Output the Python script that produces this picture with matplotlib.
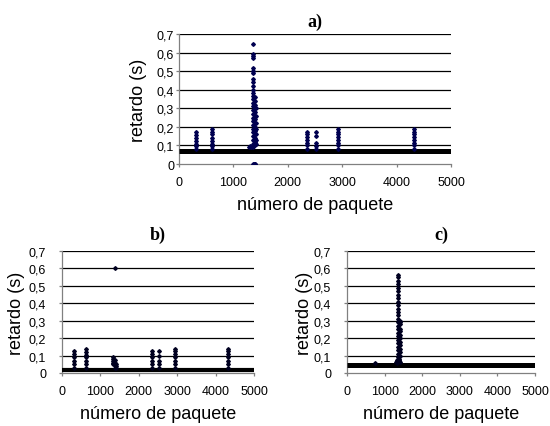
import matplotlib
matplotlib.use("Agg")
import matplotlib.pyplot as plt
import numpy as np

# ---------------- data ----------------
y_ticks = [0, 0.1, 0.2, 0.3, 0.4, 0.5, 0.6, 0.7]
y_tick_labels = ["0", "0,1", "0,2", "0,3", "0,4", "0,5", "0,6", "0,7"]
x_ticks = [0, 1000, 2000, 3000, 4000, 5000]
x_tick_labels = ["0", "1000", "2000", "3000", "4000", "5000"]

panel_titles = ["a)", "b)", "c)"]
ylabel = "retardo (s)"
xlabel = "número de paquete"

# baseline levels (packet range and delay)
a_base_x = [0, 5000]
a_base_y = [0.068, 0.068]
b_base_x = [0, 5000]
b_base_y = [0.015, 0.015]
c_base_x = [0, 5000]
c_base_y = [0.047, 0.047]

# panel a) isolated points
a_x = ([310] * 7 + [615] * 8 + [2350] * 7 + [2520] * 5 + [2930] * 8 + [4320] * 8
       + [1355] * 27 + [1390] * 14 + [1420] * 7 + [1290, 1310, 1330]
       + [1360, 1375, 1390, 1405])
a_y = ([0.08, 0.095, 0.11, 0.125, 0.14, 0.155, 0.175]
       + [0.08, 0.095, 0.11, 0.125, 0.14, 0.16, 0.175, 0.19]
       + [0.08, 0.10, 0.115, 0.13, 0.145, 0.16, 0.175]
       + [0.08, 0.095, 0.115, 0.15, 0.17]
       + [0.08, 0.10, 0.115, 0.13, 0.145, 0.16, 0.175, 0.19]
       + [0.08, 0.10, 0.115, 0.13, 0.145, 0.16, 0.175, 0.19]
       + [0.645, 0.59, 0.58, 0.57, 0.515, 0.50, 0.49, 0.46, 0.44, 0.42, 0.40, 0.38,
          0.365, 0.35, 0.33, 0.31, 0.29, 0.27, 0.25, 0.23, 0.21, 0.19, 0.17, 0.15,
          0.13, 0.11, 0.09]
       + [0.36, 0.34, 0.32, 0.30, 0.28, 0.26, 0.24, 0.22, 0.20, 0.18, 0.16, 0.14, 0.12, 0.10]
       + [0.30, 0.26, 0.22, 0.19, 0.16, 0.13, 0.11]
       + [0.09, 0.095, 0.09]
       + [0.0, 0.0, 0.0, 0.0])

# panel b) isolated points
b_x = ([310] * 6 + [615] * 7 + [1340] * 5 + [1370] * 4 + [1400] * 3 + [2350] * 6
       + [2520] * 5 + [2930] * 7 + [4320] * 7 + [1370])
b_y = ([0.03, 0.05, 0.07, 0.09, 0.11, 0.125]
       + [0.03, 0.05, 0.07, 0.09, 0.105, 0.12, 0.135]
       + [0.09, 0.08, 0.07, 0.06, 0.05]
       + [0.075, 0.06, 0.045, 0.03]
       + [0.05, 0.04, 0.03]
       + [0.03, 0.05, 0.07, 0.09, 0.11, 0.125]
       + [0.03, 0.05, 0.07, 0.10, 0.125]
       + [0.03, 0.05, 0.07, 0.09, 0.11, 0.125, 0.14]
       + [0.03, 0.05, 0.07, 0.09, 0.11, 0.125, 0.135]
       + [0.60])

# panel c) isolated points
c_x = ([1360] * 25 + [1400] * 12 + [1300, 1330, 1360, 1390, 1420, 1320, 1380] + [750])
c_y = ([0.56, 0.55, 0.53, 0.51, 0.49, 0.47, 0.45, 0.43, 0.41, 0.39, 0.37, 0.35,
        0.33, 0.31, 0.29, 0.27, 0.25, 0.23, 0.21, 0.19, 0.17, 0.15, 0.13, 0.11, 0.09]
       + [0.30, 0.29, 0.28, 0.25, 0.24, 0.22, 0.20, 0.18, 0.16, 0.14, 0.12, 0.10]
       + [0.065, 0.075, 0.07, 0.075, 0.065, 0.06, 0.08]
       + [0.06])

# ---------------- plotting ----------------
W, H = 550, 427
fig = plt.figure(figsize=(W / 100, H / 100), dpi=100)

def px_axes(x0, x1, ytop, ybot):
    return fig.add_axes([x0 / W, 1 - ybot / H, (x1 - x0) / W, (ybot - ytop) / H])

ax_a = px_axes(179, 451, 35, 165)
ax_b = px_axes(62, 254, 252, 374)
ax_c = px_axes(347, 535, 252, 374)

# (axes, base x, base y, pts x, pts y, colour, band width, ytick pad,
#  ylabel x, xlabel y, title pad)
panels = [
    (ax_a, a_base_x, a_base_y, a_x, a_y, "#000050", 3.6, 1, -0.118, -0.25, 6),
    (ax_b, b_base_x, b_base_y, b_x, b_y, "#000020", 3.0, 9, -0.195, -0.26, 9),
    (ax_c, c_base_x, c_base_y, c_x, c_y, "#000020", 3.6, 9, -0.18, -0.26, 9),
]

sans = ["Liberation Sans", "DejaVu Sans"]
serif = ["Liberation Serif", "DejaVu Serif"]

for (ax, bx, by, px, py, col, lw, ypad, ylx, xly, tpad), title in zip(panels, panel_titles):
    ax.set_xlim(0, 5000)
    ax.set_ylim(0, 0.7)
    for yv in y_ticks[1:]:
        ax.axhline(yv, color="black", lw=0.9, zorder=1)
    ax.plot(bx, by, color="black", lw=lw, solid_capstyle="butt", zorder=3)
    ax.plot(px, py, linestyle="none", marker="D", markersize=1.9,
            markerfacecolor=col, markeredgecolor=col, zorder=4)
    ax.set_yticks(y_ticks)
    ax.set_yticklabels(y_tick_labels, fontfamily=sans, fontsize=9)
    ax.set_xticks(x_ticks)
    ax.set_xticklabels(x_tick_labels, fontfamily=sans, fontsize=9)
    for s in ["top", "right"]:
        ax.spines[s].set_visible(False)
    for s in ["left", "bottom"]:
        ax.spines[s].set_color("#808080")
        ax.spines[s].set_linewidth(0.9)
    ax.tick_params(axis="both", direction="out", length=2.5, width=0.9,
                   color="#808080")
    ax.tick_params(axis="x", pad=6)
    ax.tick_params(axis="y", pad=ypad)
    ax.set_ylabel(ylabel, fontfamily=sans, fontsize=13)
    ax.yaxis.set_label_coords(ylx, 0.5)
    ax.set_xlabel(xlabel, fontfamily=sans, fontsize=13)
    ax.xaxis.set_label_coords(0.5, xly)
    ax.set_title(title, fontfamily=serif, fontweight="bold", fontsize=13, pad=tpad)
    ax.patch.set_alpha(0)

fig.savefig("out.png", dpi=100)
